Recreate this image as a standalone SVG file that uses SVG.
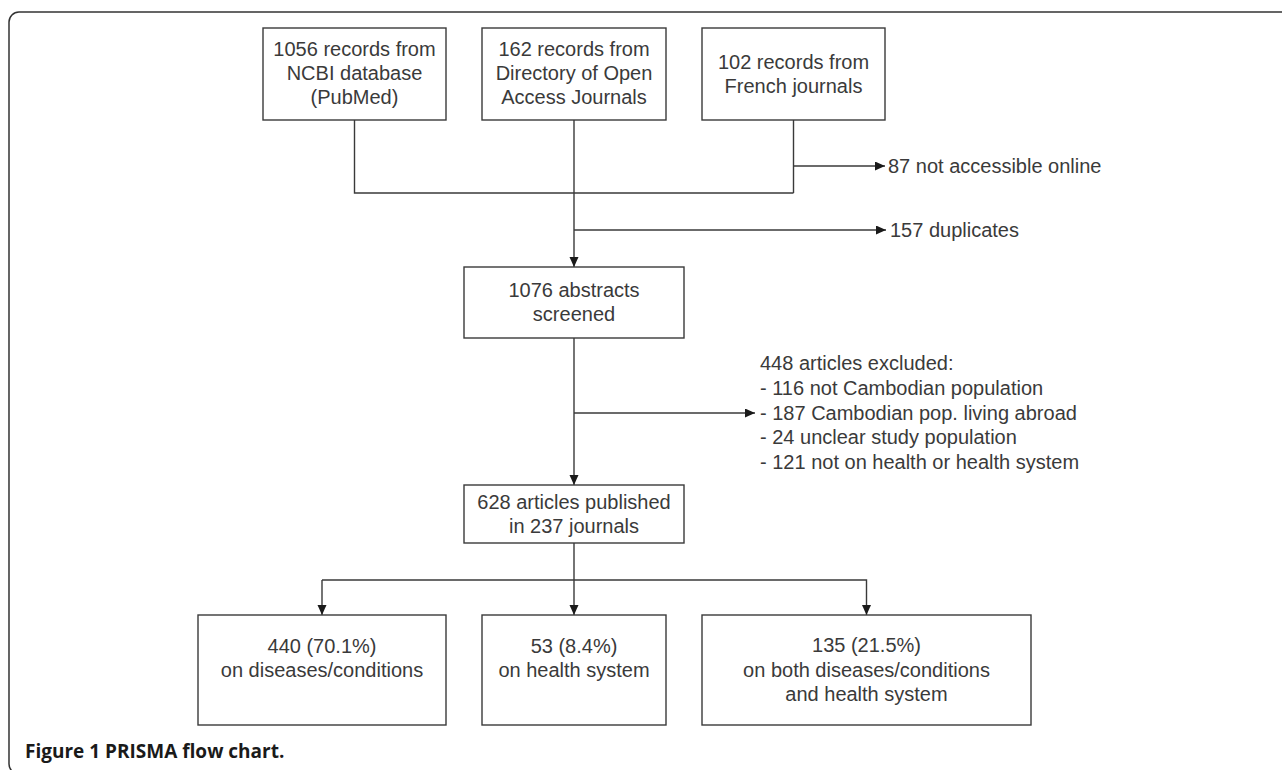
<svg xmlns="http://www.w3.org/2000/svg" width="1282" height="770" viewBox="0 0 1282 770">
  <defs>
    <style>
      .box { fill: #ffffff; stroke: #3a3a3a; stroke-width: 1.4; }
      .line { fill: none; stroke: #3a3a3a; stroke-width: 1.4; }
      .t { font-family: "Liberation Sans", Arial, sans-serif; font-size: 20px; fill: #3a3a3a; }
      .c { text-anchor: middle; }
      .cap { font-family: "Open Sans", "Liberation Sans", sans-serif; font-size: 19px; font-weight: bold; fill: #1a1a1a; }
    </style>
    <marker id="arr" markerUnits="userSpaceOnUse" markerWidth="11" markerHeight="10" refX="10" refY="4.5" orient="auto">
      <path d="M0,0 L10,4.5 L0,9 Z" fill="#1a1a1a"/>
    </marker>
  </defs>

  <rect x="9" y="12" width="1290" height="762" rx="10" ry="10" fill="#ffffff" stroke="#333333" stroke-width="1.5"/>

  <g id="connectors">
    <path class="line" d="M354.5,120 V193 H793.5"/>
    <path class="line" d="M793.5,120 V193"/>
    <path class="line" d="M793.5,166 H885" marker-end="url(#arr)"/>
    <path class="line" d="M574,120 V267" marker-end="url(#arr)"/>
    <path class="line" d="M574,230 H886" marker-end="url(#arr)"/>
    <path class="line" d="M574,338 V485" marker-end="url(#arr)"/>
    <path class="line" d="M574,413 H755" marker-end="url(#arr)"/>
    <path class="line" d="M574,543 V615" marker-end="url(#arr)"/>
    <path class="line" d="M322,580 H866.5 V615" marker-end="url(#arr)"/>
    <path class="line" d="M322,580 V615" marker-end="url(#arr)"/>
  </g>

  <g id="n-pubmed">
    <rect class="box" x="263" y="28" width="183" height="92"/>
    <text class="t c" x="354.5" y="56">1056 records from</text>
    <text class="t c" x="354.5" y="80">NCBI database</text>
    <text class="t c" x="354.5" y="104">(PubMed)</text>
  </g>
  <g id="n-doaj">
    <rect class="box" x="482" y="28" width="184" height="92"/>
    <text class="t c" x="574" y="56">162 records from</text>
    <text class="t c" x="574" y="80">Directory of Open</text>
    <text class="t c" x="574" y="104">Access Journals</text>
  </g>
  <g id="n-french">
    <rect class="box" x="702" y="28" width="183" height="92"/>
    <text class="t c" x="793.5" y="69">102 records from</text>
    <text class="t c" x="793.5" y="93">French journals</text>
  </g>
  <g id="n-notaccessible">
    <text class="t" x="888" y="173">87 not accessible online</text>
  </g>
  <g id="n-duplicates">
    <text class="t" x="890" y="237">157 duplicates</text>
  </g>
  <g id="n-screened">
    <rect class="box" x="464" y="267" width="220" height="71"/>
    <text class="t c" x="574" y="297">1076 abstracts</text>
    <text class="t c" x="574" y="321">screened</text>
  </g>
  <g id="n-excluded">
    <text class="t" x="760" y="370">448 articles excluded:</text>
    <text class="t" x="760" y="395">- 116 not Cambodian population</text>
    <text class="t" x="760" y="420">- 187 Cambodian pop. living abroad</text>
    <text class="t" x="760" y="444">- 24 unclear study population</text>
    <text class="t" x="760" y="469">- 121 not on health or health system</text>
  </g>
  <g id="n-included">
    <rect class="box" x="464" y="485" width="220" height="58"/>
    <text class="t c" x="574" y="509">628 articles published</text>
    <text class="t c" x="574" y="533">in 237 journals</text>
  </g>
  <g id="n-diseases">
    <rect class="box" x="198" y="615" width="248" height="110"/>
    <text class="t c" x="322" y="653">440 (70.1%)</text>
    <text class="t c" x="322" y="677">on diseases/conditions</text>
  </g>
  <g id="n-healthsystem">
    <rect class="box" x="482" y="615" width="184" height="110"/>
    <text class="t c" x="574" y="653">53 (8.4%)</text>
    <text class="t c" x="574" y="677">on health system</text>
  </g>
  <g id="n-both">
    <rect class="box" x="702" y="615" width="329" height="110"/>
    <text class="t c" x="866.5" y="652">135 (21.5%)</text>
    <text class="t c" x="866.5" y="677">on both diseases/conditions</text>
    <text class="t c" x="866.5" y="701">and health system</text>
  </g>

  <text class="cap" x="25" y="758">Figure 1 PRISMA flow chart.</text>
</svg>
